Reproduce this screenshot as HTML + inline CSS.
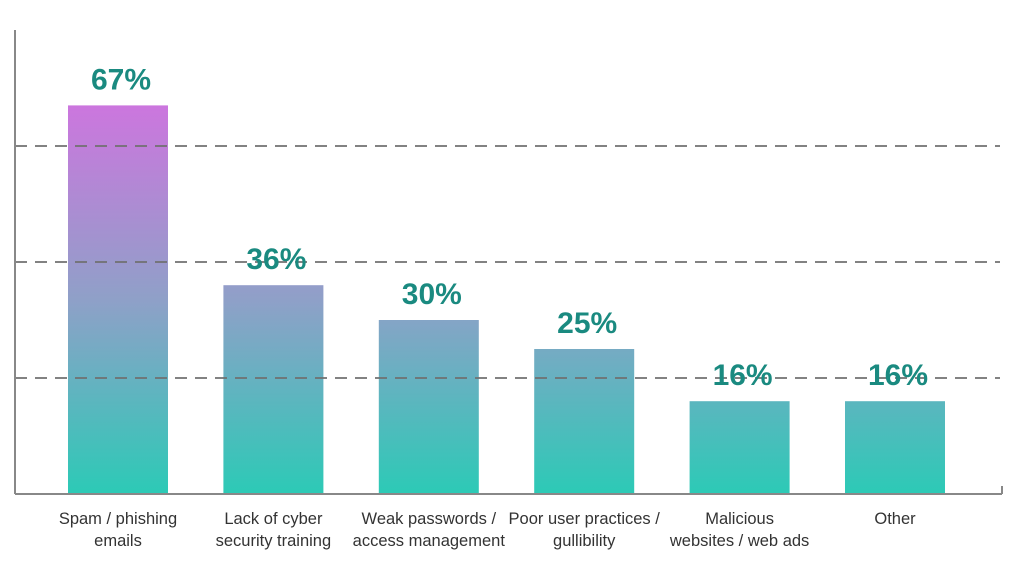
<!DOCTYPE html>
<html><head><meta charset="utf-8"><style>
html,body{margin:0;padding:0;background:#fff;}
svg{display:block;font-family:"Liberation Sans",sans-serif;}
</style></head><body>
<svg id="chart" width="1024" height="580" viewBox="0 0 1024 580" xmlns="http://www.w3.org/2000/svg">
<defs>
<linearGradient id="barGrad" gradientUnits="userSpaceOnUse" x1="0" y1="105" x2="0" y2="494">
<stop offset="0" stop-color="#cc76de"/>
<stop offset="0.5" stop-color="#8fa0c8"/>
<stop offset="1" stop-color="#2ccab6"/>
</linearGradient>
</defs>
<g id="bars"></g>
<g id="grid"></g>
<line x1="15" y1="30" x2="15" y2="494" stroke="#888" stroke-width="2"/>
<line x1="15" y1="494" x2="1002" y2="494" stroke="#888" stroke-width="2"/>
<line x1="1002" y1="486" x2="1002" y2="494" stroke="#888" stroke-width="2"/>
<g id="labels"></g>
</svg>
<script>
const categories = [["Spam / phishing","emails"],["Lack of cyber","security training"],["Weak passwords /","access management"],["Poor user practices /","gullibility"],["Malicious","websites / web ads"],["Other",""]];
const values = [67,36,30,25,16,16];
const gridTicks = [20,40,60];

const NS="http://www.w3.org/2000/svg";
const y0=494, pxPer=5.8;
function yScale(v){return y0 - v*pxPer;}
function xCenter(i){return 118 + i*155.4;}
const barW=100;
const bars=document.getElementById('bars'), grid=document.getElementById('grid'), labels=document.getElementById('labels');
function mk(tag,attrs,parent){const e=document.createElementNS(NS,tag);for(const k in attrs)e.setAttribute(k,attrs[k]);parent.appendChild(e);return e;}

values.forEach((v,i)=>{
  const r=mk('rect',{x:xCenter(i)-barW/2,y:yScale(v),width:barW,height:y0-yScale(v),fill:'url(#barGrad)'},bars);
  
  
  const t=mk('text',{x:xCenter(i)+3,y:yScale(v)-16,'text-anchor':'middle','font-size':'30','font-weight':'bold',fill:'#1a8a80'},labels);
  t.textContent=v+'%';
  
  
  categories[i].forEach((line,j)=>{
    if(!line)return;
    const c=mk('text',{x:xCenter(i),y:524+j*22,'text-anchor':'middle','font-size':'16.5',fill:'#333'},labels);
    c.textContent=line;
    
    
  });
});
gridTicks.forEach(g=>{
  const l=mk('line',{x1:15,x2:1000,y1:yScale(g),y2:yScale(g),stroke:'#707070','stroke-width':'1.8','stroke-dasharray':'12 8'},grid);
  
  
});
</script>
</body></html>
